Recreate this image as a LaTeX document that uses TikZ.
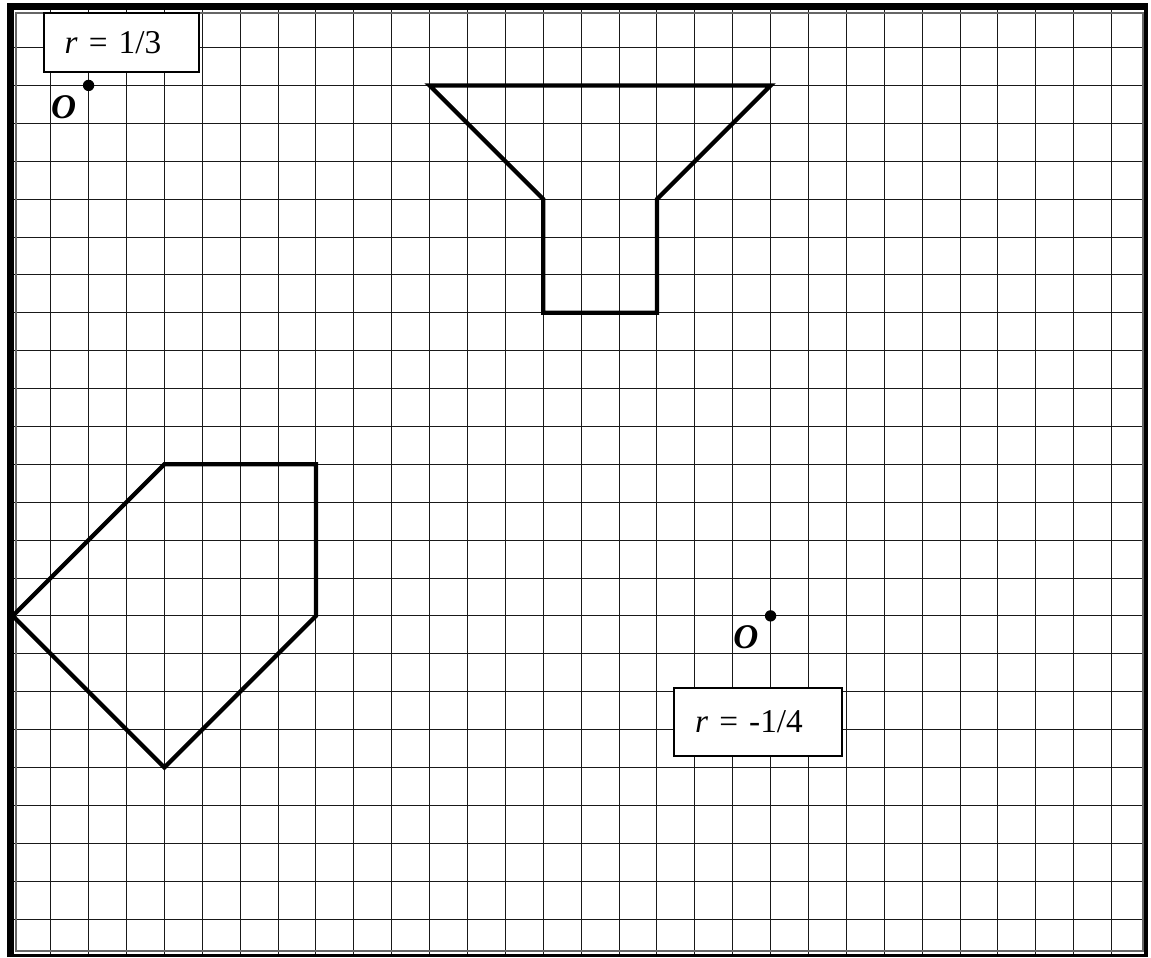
\documentclass[tikz,border=0pt]{standalone}
\usepackage{fontspec}
\setmainfont{Liberation Serif}
\begin{document}
\begin{tikzpicture}[
    gridline/.style={black!90, line width=0.7pt},
    shapeline/.style={black, line width=3.2pt, line join=miter},
    dot/.style={circle, fill=black, inner sep=0pt, minimum size=0.3cm},
    olabel/.style={font=\fontsize{26}{30}\selectfont\bfseries\itshape, inner sep=0pt},
    rbox/.style={draw, fill=white, line width=1.5pt, inner xsep=0.55cm, align=left,
        font=\fontsize{25}{29}\selectfont}
]
    \useasboundingbox (-0.338,-0.029) rectangle (30.04,25.255);

    % 方格纸
    \draw[gridline] (0,0) grid (29.91,25.08);

    % 边框
    \draw[line width=0.185cm] (-0.061,-0.005) |- (29.95,25.083);
    \draw[line width=0.08cm] (-0.061,0.037) -| (29.908,25.083);
    \draw[black!60, line width=0.9pt] (0.084,0.156) rectangle (29.829,24.912);

    % 上图：漏斗形
    \draw[shapeline] (11,23) -- (20,23) -- (17,20) -- (17,17) -- (14,17) -- (14,20) -- cycle;

    % 左图：五边形
    \draw[shapeline] (4,13) -- (8,13) -- (8,9) -- (4,5) -- (0,9) -- cycle;

    % 位似中心 r = 1/3
    \node[rbox, text width=3.0cm, minimum height=1.56cm] (boxA) at (2.87,24.14) {\textit{r} = 1/3};
    \node[dot] (centreA) at (2,23) {};
    \node[olabel] (labelA) at (1.34,22.42) {O};

    % 位似中心 r = -1/4
    \node[dot] (centreB) at (20,9) {};
    \node[olabel] (labelB) at (19.35,8.45) {O};
    \node[rbox, text width=3.33cm, minimum height=1.79cm] (boxB) at (19.675,6.195) {\textit{r} = -1/4};
\end{tikzpicture}
\end{document}
